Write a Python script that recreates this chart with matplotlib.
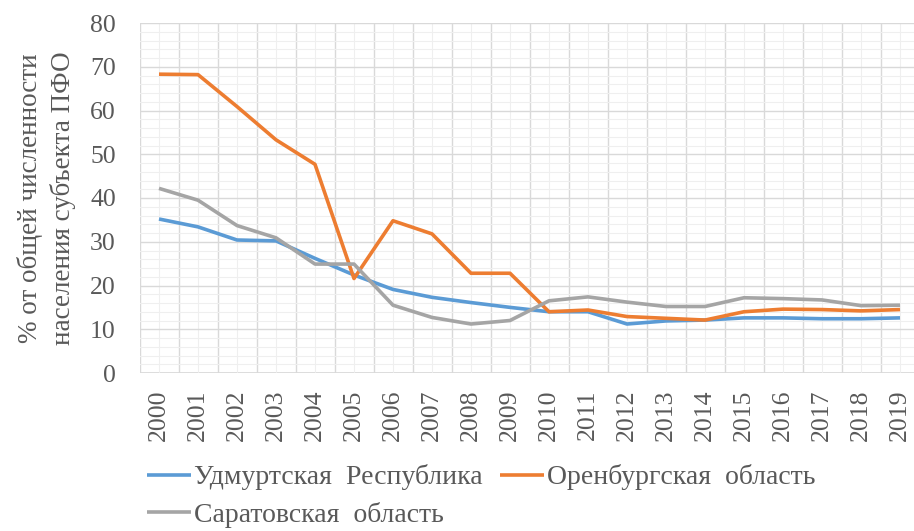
import matplotlib.pyplot as plt
import numpy as np
from matplotlib.ticker import MultipleLocator

plt.rcParams['font.family'] = ['Liberation Serif', 'DejaVu Serif']

years = [str(y) for y in range(2000, 2020)]
udmurtia = [35.2, 33.4, 30.4, 30.2, 26.2, 22.4, 19.1, 17.3, 16.1, 15.0,
            14.0, 14.0, 11.2, 11.9, 12.1, 12.6, 12.6, 12.4, 12.4, 12.6]
orenburg = [68.3, 68.2, 60.9, 53.3, 47.7, 21.6, 34.8, 31.8, 22.8, 22.8,
            14.0, 14.4, 12.9, 12.5, 12.1, 14.0, 14.6, 14.5, 14.2, 14.5]
saratov = [42.2, 39.5, 33.7, 30.9, 24.9, 24.9, 15.5, 12.7, 11.2, 12.0,
           16.5, 17.4, 16.2, 15.2, 15.2, 17.2, 17.0, 16.7, 15.4, 15.5]
labels = ['Удмуртская  Республика', 'Оренбургская  область', 'Саратовская  область']
colors = ['#5B9BD5', '#ED7D31', '#A5A5A5']

fig = plt.figure(figsize=(9.14, 5.31), dpi=100)
ax = fig.add_axes([139.5 / 914, 1 - 373 / 531, 780 / 914, 350 / 531])

x = np.arange(len(years))
lines = []
for vals, lab, col in zip([udmurtia, orenburg, saratov], labels, colors):
    ln, = ax.plot(x, vals, color=col, lw=2.6, label=lab, solid_capstyle='butt')
    lines.append(ln)

ax.set_xlim(-0.5, len(years) - 0.5)
ax.set_ylim(0, 80)
ax.set_xticks(x)
ax.set_xticklabels(years, rotation=90)
ax.xaxis.set_minor_locator(MultipleLocator(1, offset=0.5))
ax.yaxis.set_major_locator(MultipleLocator(10))
ax.yaxis.set_minor_locator(MultipleLocator(2))

ax.grid(True, which='major', axis='y', color='#D9D9D9', lw=1)
ax.grid(True, which='minor', axis='y', color='#EFEFEF', lw=0.8)
ax.grid(True, which='minor', axis='x', color='#D9D9D9', lw=1)
ax.grid(True, which='major', axis='x', color='#EFEFEF', lw=0.8)
ax.set_axisbelow(True)
for s in ax.spines.values():
    s.set_visible(False)
ax.axhline(0, color='#D9D9D9', lw=1.2, zorder=0)

ax.tick_params(which='both', length=0, labelsize=18.5, labelcolor='#595959')
ax.tick_params(axis='y', pad=17)
ax.tick_params(axis='x', pad=12)

ax.set_ylabel('% от общей численности\nнаселения субъекта ПФО', fontsize=19.5,
              color='#595959', linespacing=1.35, labelpad=10)

# row-wise order: Удмуртская, Оренбургская / Саратовская
order = [0, 2, 1]
leg = fig.legend([lines[i] for i in order], [labels[i] for i in order],
                 loc='lower left', bbox_to_anchor=(141 / 914, -0.004), ncol=2,
                 frameon=False, fontsize=20, handlelength=1.6,
                 handletextpad=0.12, columnspacing=0.6, labelspacing=0.4,
                 borderaxespad=0, borderpad=0.2)
for t in leg.get_texts():
    t.set_color('#595959')

fig.savefig('out.png', dpi=100)
